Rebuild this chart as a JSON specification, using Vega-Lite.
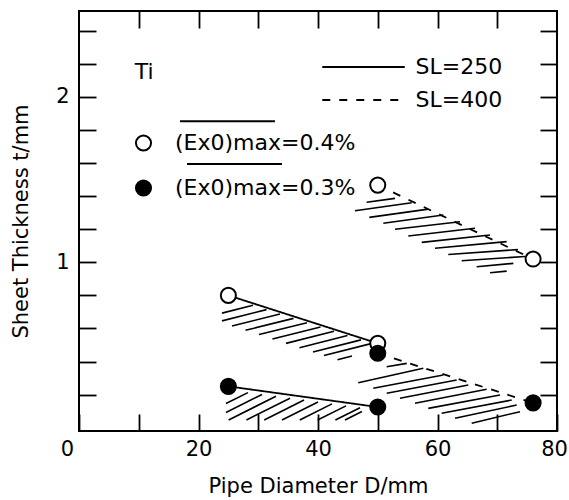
{
  "$schema": "https://vega.github.io/schema/vega-lite/v6.json",
  "width": 478,
  "height": 420,
  "autosize": {"type": "none"},
  "padding": {"left": 79, "top": 11, "right": 12, "bottom": 69},
  "background": "white",
  "config": {
    "view": {"stroke": "black", "strokeWidth": 2},
    "font": "DejaVu Sans",
    "axis": {
      "domain": false, "grid": false, "ticks": true,
      "tickColor": "black", "tickWidth": 1.8, "tickSize": -17,
      "labelColor": "black", "labelFont": "DejaVu Sans", "labelFontSize": 21,
      "labelFlush": false,
      "titleFont": "DejaVu Sans", "titleFontSize": 21, "titleFontWeight": "normal", "titleColor": "black"
    },
    "legend": {
      "labelFont": "DejaVu Sans", "labelFontSize": 22, "labelColor": "black",
      "labelLimit": 400, "padding": 0, "offset": 0
    }
  },
  "datasets": {
    "pts": [
      {"D": 25, "t": 0.80, "SL": "SL=250", "Ex0": "0.4%"},
      {"D": 50, "t": 0.51, "SL": "SL=250", "Ex0": "0.4%"},
      {"D": 50, "t": 1.467, "SL": "SL=400", "Ex0": "0.4%"},
      {"D": 76, "t": 1.02, "SL": "SL=400", "Ex0": "0.4%"},
      {"D": 25, "t": 0.25, "SL": "SL=250", "Ex0": "0.3%"},
      {"D": 50, "t": 0.125, "SL": "SL=250", "Ex0": "0.3%"},
      {"D": 50, "t": 0.45, "SL": "SL=400", "Ex0": "0.3%"},
      {"D": 76, "t": 0.15, "SL": "SL=400", "Ex0": "0.3%"}
    ],
    "overlines": [
      {"a": 16.9, "b": 32.8, "t": 1.854},
      {"a": 18.08, "b": 33.97, "t": 1.594}
    ],
    "notes": [
      {"D": 10.9, "t": 2.15, "label": "Ti"}
    ],
    "hatch": [
      {"x1": 23.93, "y1": 0.693, "x2": 29.12, "y2": 0.740},
      {"x1": 23.93, "y1": 0.646, "x2": 31.38, "y2": 0.714},
      {"x1": 25.61, "y1": 0.615, "x2": 33.64, "y2": 0.687},
      {"x1": 27.87, "y1": 0.589, "x2": 35.90, "y2": 0.661},
      {"x1": 30.13, "y1": 0.563, "x2": 38.16, "y2": 0.635},
      {"x1": 32.38, "y1": 0.536, "x2": 40.42, "y2": 0.609},
      {"x1": 34.64, "y1": 0.510, "x2": 42.68, "y2": 0.583},
      {"x1": 36.90, "y1": 0.484, "x2": 44.94, "y2": 0.557},
      {"x1": 39.16, "y1": 0.458, "x2": 47.20, "y2": 0.531},
      {"x1": 41.00, "y1": 0.437, "x2": 49.04, "y2": 0.510},
      {"x1": 43.26, "y1": 0.411, "x2": 45.69, "y2": 0.433},

      {"x1": 24.60, "y1": 0.146, "x2": 28.28, "y2": 0.212},
      {"x1": 24.60, "y1": 0.092, "x2": 30.63, "y2": 0.201},
      {"x1": 25.04, "y1": 0.047, "x2": 32.97, "y2": 0.190},
      {"x1": 28.02, "y1": 0.047, "x2": 35.31, "y2": 0.178},
      {"x1": 31.00, "y1": 0.047, "x2": 37.66, "y2": 0.167},
      {"x1": 33.97, "y1": 0.047, "x2": 40.00, "y2": 0.155},
      {"x1": 36.95, "y1": 0.047, "x2": 42.34, "y2": 0.144},
      {"x1": 39.93, "y1": 0.047, "x2": 44.69, "y2": 0.132},
      {"x1": 42.91, "y1": 0.047, "x2": 47.03, "y2": 0.121},
      {"x1": 44.52, "y1": 0.047, "x2": 47.36, "y2": 0.098},

      {"x1": 48.15, "y1": 1.363, "x2": 52.89, "y2": 1.387},
      {"x1": 46.19, "y1": 1.312, "x2": 55.68, "y2": 1.360},
      {"x1": 48.59, "y1": 1.272, "x2": 58.46, "y2": 1.322},
      {"x1": 50.93, "y1": 1.236, "x2": 60.97, "y2": 1.286},
      {"x1": 52.89, "y1": 1.200, "x2": 63.77, "y2": 1.245},
      {"x1": 55.11, "y1": 1.159, "x2": 66.28, "y2": 1.206},
      {"x1": 57.36, "y1": 1.121, "x2": 68.79, "y2": 1.165},
      {"x1": 59.58, "y1": 1.085, "x2": 71.58, "y2": 1.125},
      {"x1": 61.81, "y1": 1.047, "x2": 73.47, "y2": 1.077},
      {"x1": 64.05, "y1": 1.010, "x2": 74.64, "y2": 1.035},
      {"x1": 66.56, "y1": 0.973, "x2": 72.69, "y2": 0.994},
      {"x1": 68.79, "y1": 0.937, "x2": 71.58, "y2": 0.947},

      {"x1": 51.50, "y1": 0.369, "x2": 54.85, "y2": 0.389},
      {"x1": 46.74, "y1": 0.272, "x2": 57.62, "y2": 0.359},
      {"x1": 49.25, "y1": 0.238, "x2": 60.97, "y2": 0.319},
      {"x1": 51.50, "y1": 0.208, "x2": 63.21, "y2": 0.288},
      {"x1": 53.72, "y1": 0.178, "x2": 65.16, "y2": 0.258},
      {"x1": 56.23, "y1": 0.148, "x2": 68.23, "y2": 0.232},
      {"x1": 58.46, "y1": 0.117, "x2": 70.46, "y2": 0.198},
      {"x1": 60.70, "y1": 0.087, "x2": 72.42, "y2": 0.167},
      {"x1": 62.93, "y1": 0.057, "x2": 73.26, "y2": 0.137},
      {"x1": 65.72, "y1": 0.027, "x2": 73.81, "y2": 0.097}
    ]
  },
  "layer": [
    {
      "data": {"name": "hatch"},
      "mark": {"type": "rule", "color": "black", "strokeWidth": 1.6},
      "encoding": {
        "x": {
          "field": "x1", "type": "quantitative",
          "scale": {"domain": [0, 80], "nice": false, "zero": false},
          "axis": {
            "orient": "bottom", "values": [0, 10, 20, 30, 40, 50, 60, 70, 80],
            "labelExpr": "datum.value % 20 == 0 ? datum.label : ''",
            "labelOffset": {"condition": [{"test": "datum.value == 0", "value": -12}, {"test": "datum.value == 80", "value": -3}], "value": 0},
            "labelPadding": 24, "title": "Pipe Diameter D/mm", "titlePadding": 16
          }
        },
        "y": {
          "field": "y1", "type": "quantitative",
          "scale": {"domain": [-0.02, 2.52], "nice": false, "zero": false},
          "axis": {
            "orient": "left", "values": [0.2, 0.4, 0.6, 0.8, 1, 1.2, 1.4, 1.6, 1.8, 2, 2.2, 2.4],
            "format": "~g",
            "labelExpr": "datum.value == 1 || datum.value == 2 ? datum.label : ''",
            "labelPadding": 27, "title": "Sheet Thickness t/mm", "titlePadding": 24
          }
        },
        "x2": {"field": "x2"},
        "y2": {"field": "y2"}
      }
    },
    {
      "data": {"name": "pts"},
      "mark": {"type": "line", "color": "black", "strokeWidth": 1.8},
      "encoding": {
        "x": {"field": "D", "type": "quantitative", "axis": null},
        "y": {"field": "t", "type": "quantitative", "axis": null},
        "detail": {"field": "Ex0"},
        "strokeDash": {
          "field": "SL", "type": "nominal",
          "scale": {"domain": ["SL=250", "SL=400"], "range": [[1, 0], [8, 9]]},
          "legend": {
            "orient": "none", "legendX": 273.5, "legendY": 45, "title": null,
            "symbolType": "M-5,0H5", "symbolSize": 272, "symbolStrokeWidth": 2,
            "symbolStrokeColor": "black", "labelOffset": 41, "rowPadding": 11
          }
        }
      }
    },
    {
      "data": {"name": "pts"},
      "mark": {"type": "point", "shape": "circle", "filled": true, "size": 227, "stroke": "black", "strokeWidth": 2, "opacity": 1},
      "encoding": {
        "x": {"field": "D", "type": "quantitative", "axis": {"orient": "top", "values": [10, 20, 30, 40, 50, 60, 70], "labels": false, "title": null}},
        "y": {"field": "t", "type": "quantitative", "axis": {"orient": "right", "values": [0.2, 0.4, 0.6, 0.8, 1, 1.2, 1.4, 1.6, 1.8, 2, 2.2, 2.4], "labels": false, "title": null}},
        "fill": {
          "field": "Ex0", "type": "nominal",
          "scale": {"domain": ["0.4%", "0.3%"], "range": ["white", "black"]},
          "legend": {
            "orient": "none", "legendX": 53.5, "legendY": 121, "title": null,
            "symbolType": "circle", "symbolSize": 227, "symbolStrokeWidth": 2,
            "symbolStrokeColor": "black", "symbolOpacity": 1, "labelOffset": 20.5, "rowPadding": 21,
            "labelExpr": "'(Ex0)max=' + datum.label"
          }
        }
      }
    },
    {
      "data": {"name": "notes"},
      "mark": {"type": "text", "fontSize": 22, "font": "DejaVu Sans", "align": "center", "baseline": "middle", "color": "black"},
      "encoding": {
        "x": {"field": "D", "type": "quantitative", "axis": null},
        "y": {"field": "t", "type": "quantitative", "axis": null},
        "text": {"field": "label"}
      }
    },
    {
      "data": {"name": "overlines"},
      "mark": {"type": "rule", "color": "black", "strokeWidth": 2},
      "encoding": {
        "x": {"field": "a", "type": "quantitative", "axis": null},
        "x2": {"field": "b"},
        "y": {"field": "t", "type": "quantitative", "axis": null}
      }
    }
  ],
  "resolve": {"axis": {"x": "independent", "y": "independent"}}
}
